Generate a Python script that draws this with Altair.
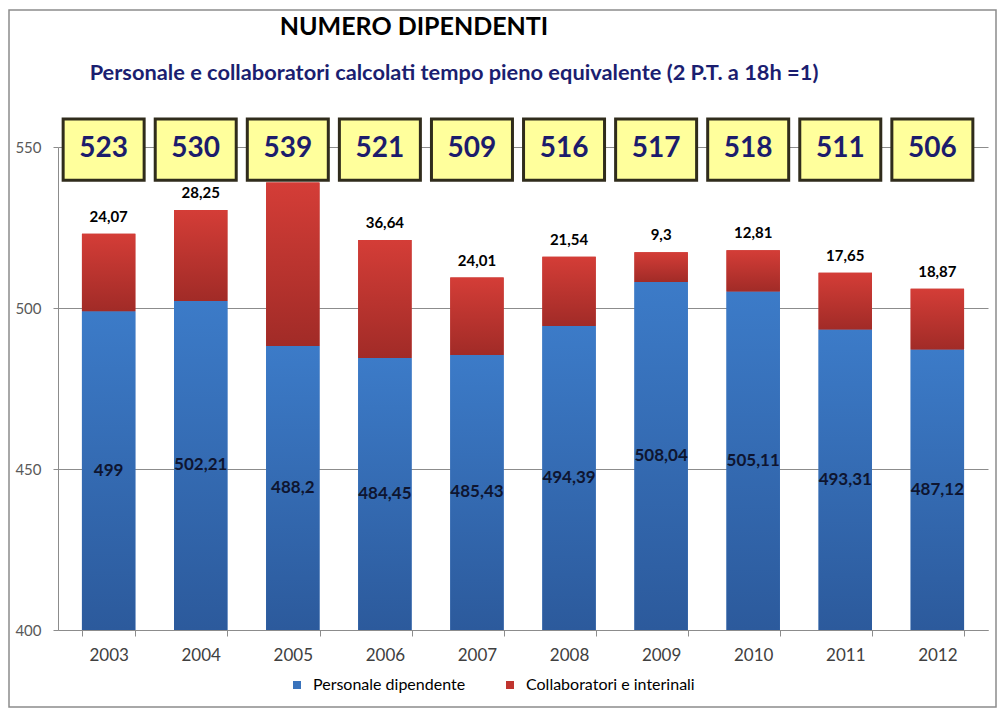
import altair as alt
import pandas as pd

# ---- data ----
years = ["2003", "2004", "2005", "2006", "2007", "2008", "2009", "2010", "2011", "2012"]
personale = [499, 502.21, 488.2, 484.45, 485.43, 494.39, 508.04, 505.11, 493.31, 487.12]
collaboratori = [24.07, 28.25, 50.8, 36.64, 24.01, 21.54, 9.3, 12.81, 17.65, 18.87]
totali = [523, 530, 539, 521, 509, 516, 517, 518, 511, 506]

series_names = ["Personale dipendente", "Collaboratori e interinali"]
y_ticks = [400, 450, 500, 550]

title_text = "NUMERO DIPENDENTI"
subtitle_text = "Personale e collaboratori  calcolati tempo pieno equivalente (2 P.T. a 18h =1)"

BASE = 400
FONT = "Lato"


def it_fmt(v):
    s = f"{v:g}"
    return s.replace(".", ",")


rows = []
for y, p, c, t in zip(years, personale, collaboratori, totali):
    rows.append(dict(year=y, series=series_names[0], lo=BASE, hi=p,
                     label=it_fmt(p), mid=(BASE + p) / 2, total=t))
    rows.append(dict(year=y, series=series_names[1], lo=p, hi=p + c,
                     label=it_fmt(c), mid=p + c, total=t))
df = pd.DataFrame(rows)
df_tot = pd.DataFrame({"year": years, "total": totali})

x_enc = alt.X("year:N", sort=years,
              scale=alt.Scale(paddingInner=0.42, paddingOuter=0.26),
              axis=alt.Axis(title=None, labelAngle=0, tickBand="extent",
                            tickSize=6, labelPadding=11, labelFontSize=17,
                            labelColor="#404040", domainColor="#8c8c8c",
                            tickColor="#8c8c8c", grid=False))
y_scale = alt.Scale(domain=[400, 550], nice=False, zero=False)

base = alt.Chart(df)

# legend / solid base bars
legend_bars = base.mark_bar().encode(
    x=x_enc,
    y=alt.Y("hi:Q", scale=y_scale,
            axis=alt.Axis(title=None, values=y_ticks, grid=True, gridColor="#8c8c8c",
                          domainColor="#8c8c8c", tickColor="#8c8c8c", tickSize=5,
                          labelColor="#595959", labelFontSize=15, labelPadding=12)),
    y2="lo:Q",
    color=alt.Color("series:N",
                    scale=alt.Scale(domain=series_names, range=["#3A73BC", "#C0342F"]),
                    legend=alt.Legend(title=None, orient="none", legendX=231, legendY=530,
                                      direction="horizontal", symbolType="square",
                                      symbolSize=64, labelFontSize=16, labelColor="#000000",
                                      labelLimit=400, columnPadding=36, labelOffset=8,
                                      padding=0)),
)

blue_grad = alt.Gradient(gradient="linear", x1=0, y1=0, x2=0, y2=1,
                         stops=[alt.GradientStop(color="#3C7BC8", offset=0),
                                alt.GradientStop(color="#2C5A9C", offset=1)])
red_grad = alt.Gradient(gradient="linear", x1=0, y1=0, x2=0, y2=1,
                        stops=[alt.GradientStop(color="#D43D37", offset=0),
                               alt.GradientStop(color="#A12B27", offset=1)])

blue_bars = base.transform_filter(alt.datum.series == series_names[0]).mark_bar(fill=blue_grad).encode(
    x=alt.X("year:N", sort=years), y=alt.Y("hi:Q"), y2="lo:Q")
red_bars = base.transform_filter(alt.datum.series == series_names[1]).mark_bar(fill=red_grad).encode(
    x=alt.X("year:N", sort=years), y=alt.Y("hi:Q"), y2="lo:Q")

inner_labels = base.transform_filter(alt.datum.series == series_names[0]).mark_text(
    font=FONT, fontSize=17, fontWeight="bold", color="#0E1530", baseline="middle").encode(
    x=alt.X("year:N", sort=years), y=alt.Y("mid:Q"), text="label:N")

# labels that would sit under the total boxes are hidden, as in the reference
top_labels = base.transform_filter(
    (alt.datum.series == series_names[1]) & (alt.datum.mid < 533)
).mark_text(
    font=FONT, fontSize=15, fontWeight="bold", color="#000000", baseline="bottom", dy=-9).encode(
    x=alt.X("year:N", sort=years), y=alt.Y("mid:Q"), text="label:N")

boxes = alt.Chart(df_tot).mark_bar(size=81, fill="#FFFF9C", stroke="#302C1C",
                                   strokeWidth=3, xOffset=-5).encode(
    x=alt.X("year:N", sort=years), y=alt.datum(558.7), y2=alt.datum(539.7))

box_text = alt.Chart(df_tot).mark_text(font=FONT, fontSize=28, fontWeight="bold",
                                       color="#1C1C6C", dx=-5, baseline="middle").encode(
    x=alt.X("year:N", sort=years), y=alt.datum(549.4), text="total:N")

title_df = pd.DataFrame({"t": [title_text], "s": [subtitle_text]})
title = alt.Chart(title_df).mark_text(font=FONT, fontSize=25, fontWeight="bold",
                                      color="#000000", baseline="middle").encode(
    x=alt.value(356), y=alt.value(-120), text="t:N")
subtitle = alt.Chart(title_df).mark_text(font=FONT, fontSize=21.8, fontWeight="bold",
                                         color="#1B1E70", baseline="middle").encode(
    x=alt.value(396), y=alt.value(-74), text="s:N")

frame = alt.Chart(title_df).mark_rect(fillOpacity=0, stroke="#8c8c8c", strokeWidth=1.5).encode(
    x=alt.value(-49), x2=alt.value(938), y=alt.value(-137), y2=alt.value(560))

chart = alt.layer(
    frame, legend_bars, blue_bars, red_bars, inner_labels, top_labels,
    boxes, box_text, title, subtitle
).properties(
    width=930, height=483,
    autosize=alt.AutoSizeParams(type="none"),
    padding={"left": 50, "top": 139, "right": 10, "bottom": 78},
).configure(font=FONT, background="white").configure_view(stroke=None)

chart.save("out.html", embed_options={"renderer": "svg", "actions": False})
